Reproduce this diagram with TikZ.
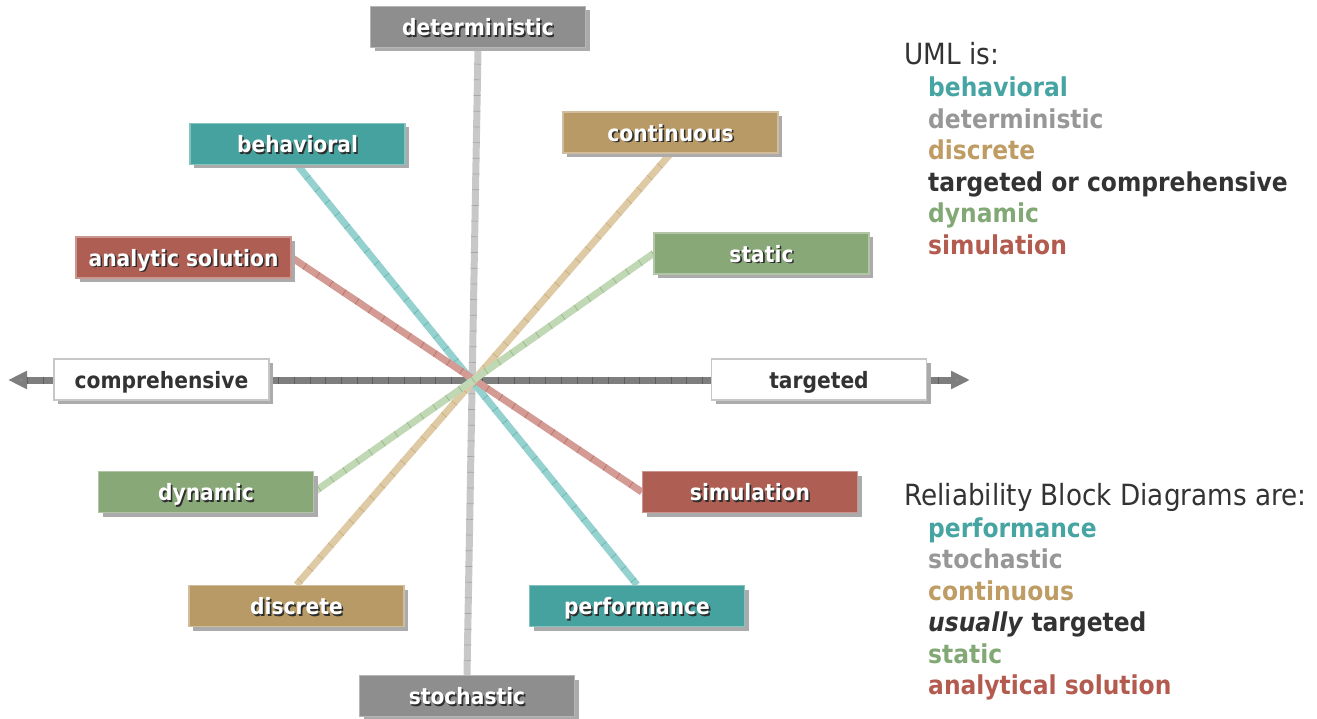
\documentclass[tikz,border=0pt]{standalone}
\usepackage{fontspec}
\setmainfont[FakeStretch=0.9]{DejaVu Sans}
\usetikzlibrary{arrows.meta,shadows}

% palette
\definecolor{tealbox}{HTML}{45A29E}
\definecolor{tealline}{HTML}{95D2CF}
\definecolor{tealtick}{HTML}{6BB6B2}
\definecolor{graybox}{HTML}{8E8E8E}
\definecolor{grayline}{HTML}{C8C8C8}
\definecolor{graytick}{HTML}{A6A6A6}
\definecolor{tanbox}{HTML}{B89A66}
\definecolor{tanline}{HTML}{DFCAA6}
\definecolor{tantick}{HTML}{C9AE80}
\definecolor{redbox}{HTML}{AE5E52}
\definecolor{redline}{HTML}{D39B94}
\definecolor{redtick}{HTML}{B8736A}
\definecolor{greenbox}{HTML}{88A878}
\definecolor{greenline}{HTML}{C0D8B4}
\definecolor{greentick}{HTML}{9AB68C}
\definecolor{axisgray}{HTML}{7E7E7E}
\definecolor{axistick}{HTML}{5E5E5E}
\definecolor{arrowgray}{HTML}{8C8C8C}
\definecolor{shadowgray}{HTML}{ABABAB}
\definecolor{labelshadow}{HTML}{2E2E2E}
\definecolor{ink}{HTML}{333333}
\definecolor{tealtxt}{HTML}{46A5A2}
\definecolor{graytxt}{HTML}{979797}
\definecolor{tantxt}{HTML}{BE9C64}
\definecolor{greentxt}{HTML}{82A975}
\definecolor{redtxt}{HTML}{B35B4F}

% white label text with a dark drop shadow
\newcommand\shadowtext[1]{\makebox[0pt][l]{\hspace{1.6pt}\raisebox{-1.6pt}{\textcolor{labelshadow}{#1}}}\textcolor{white}{#1}}

\pgfdeclarelayer{bg}
\pgfsetlayers{bg,main}

\tikzset{
  box/.style={minimum width=215pt, minimum height=41pt, inner sep=0pt,
    text depth=2.5pt, text height=20pt,
    font=\fontsize{22.5}{26}\selectfont\bfseries, line width=1.2pt,
    drop shadow={shadow xshift=4pt, shadow yshift=-4pt, fill=shadowgray, opacity=1}},
  colbox/.style={box, fill=#1, draw=#1!65!white},
  whitebox/.style={box, fill=white, draw=black!22, text=ink},
  band/.style n args={2}{line width=7pt, draw=#1,
    postaction={draw=#2, line width=7pt, dash pattern=on 0.7pt off 15pt}},
  head/.style={anchor=base west, inner sep=0pt, text=ink,
    font=\fontsize{29.2}{32}\selectfont},
  item/.style={anchor=base west, inner sep=0pt, text=#1,
    font=\fontsize{26}{30}\selectfont\bfseries},
}

\begin{document}
\begin{tikzpicture}[x=1pt,y=-1pt]
\useasboundingbox (0,0) rectangle (1317,719);

% category boxes
\node[colbox=graybox]  (deterministic) at (478,27)     {\shadowtext{deterministic}};
\node[colbox=tealbox]  (behavioral)    at (297.5,144)  {\shadowtext{behavioral}};
\node[colbox=tanbox]   (continuous)    at (670.5,132.5){\shadowtext{continuous}};
\node[colbox=redbox]   (analytic)      at (183.5,257.5){\shadowtext{analytic solution}};
\node[colbox=greenbox] (static)        at (761.5,253.5){\shadowtext{static}};
\node[whitebox]        (comprehensive) at (161.5,379.5){comprehensive};
\node[whitebox]        (targeted)      at (819,379.5)  {targeted};
\node[colbox=greenbox] (dynamic)       at (206,492)    {\shadowtext{dynamic}};
\node[colbox=redbox]   (simulation)    at (750,492)    {\shadowtext{simulation}};
\node[colbox=tanbox]   (discrete)      at (296.5,606)  {\shadowtext{discrete}};
\node[colbox=tealbox]  (performance)   at (637,606)    {\shadowtext{performance}};
\node[colbox=graybox]  (stochastic)    at (467,696)    {\shadowtext{stochastic}};

\coordinate (axL) at (8,380);
\coordinate (axR) at (970,380);

% axes and connecting bands behind the boxes
\begin{pgfonlayer}{bg}
  \draw[band={grayline}{graytick}] (deterministic.south) -- (stochastic.north);
  \draw[line width=7pt, draw=axisgray,
        {Triangle[length=19pt,width=17pt,fill=arrowgray]}-{Triangle[length=19pt,width=17pt,fill=arrowgray]}] (axL) -- (axR);
  \draw[line width=7pt, draw=axistick, dash pattern=on 0.7pt off 15pt,
        shorten <=19pt, shorten >=19pt] (axL) -- (axR);
  \draw[band={tealline}{tealtick}]   (behavioral.south) -- (performance.north);
  \draw[band={redline}{redtick}]     (analytic.east) -- (simulation.west);
  \draw[band={tanline}{tantick}]     (continuous.south) -- (discrete.north);
  \draw[band={greenline}{greentick}] (static.west) -- (dynamic.east);
\end{pgfonlayer}

% UML summary
\node[head] (u0) at (904,65) {UML is:};
\node[item=tealtxt]  (u1) at (928,97)    {behavioral};
\node[item=graytxt]  (u2) at (928,128.5) {deterministic};
\node[item=tantxt]   (u3) at (928,160)   {discrete};
\node[item=ink]      (u4) at (928,191.5) {targeted or comprehensive};
\node[item=greentxt] (u5) at (928,223)   {dynamic};
\node[item=redtxt]   (u6) at (928,254.5) {simulation};

% Reliability Block Diagram summary
\node[head] (r0) at (904,505) {Reliability Block Diagrams are:};
\node[item=tealtxt]  (r1) at (928,537)   {performance};
\node[item=graytxt]  (r2) at (928,568.5) {stochastic};
\node[item=tantxt]   (r3) at (928,600)   {continuous};
\node[item=ink]      (r4) at (928,631.5) {\textit{usually} targeted};
\node[item=greentxt] (r5) at (928,663)   {static};
\node[item=redtxt]   (r6) at (928,694.5) {analytical solution};
\end{tikzpicture}
\end{document}
